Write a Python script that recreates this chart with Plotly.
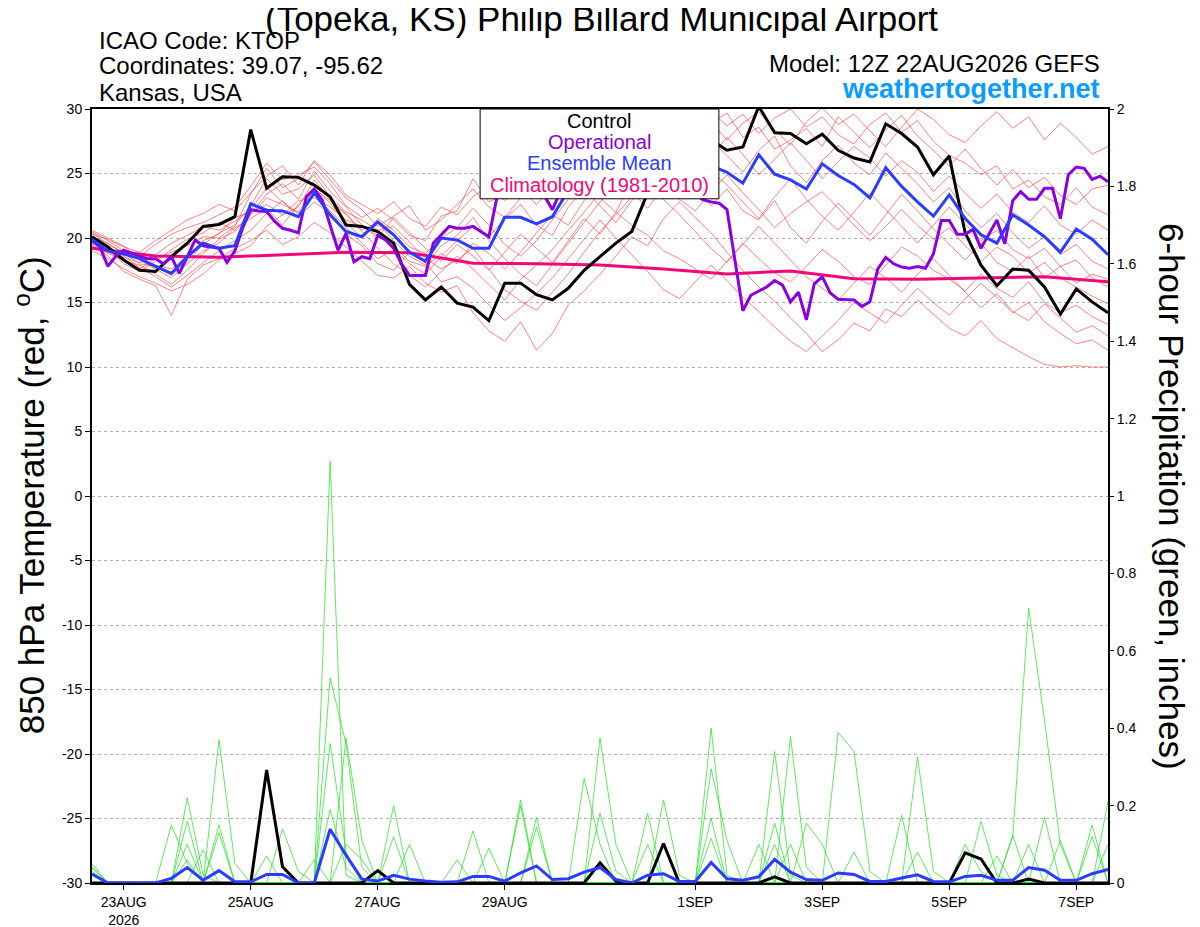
import pandas as pd
import plotly.graph_objects as go

# time axes
times6 = pd.date_range("2026-08-22 12:00", periods=65, freq="6h")
times3 = pd.date_range("2026-08-22 12:00", periods=129, freq="3h")
times24 = pd.date_range("2026-08-22 12:00", periods=17, freq="24h")

tick_dates = ["2026-08-23", "2026-08-25", "2026-08-27", "2026-08-29",
              "2026-09-01", "2026-09-03", "2026-09-05", "2026-09-07"]
tick_labels = ["23AUG<br>2026", "25AUG", "27AUG", "29AUG", "1SEP", "3SEP", "5SEP", "7SEP"]
temp_ticks = [-30, -25, -20, -15, -10, -5, 0, 5, 10, 15, 20, 25, 30]
temp_labels = ["-30", "-25", "-20", "-15", "-10", "-5", "0", "5", "10", "15", "20", "25", "30"]
precip_ticks = [0, 0.2, 0.4, 0.6, 0.8, 1, 1.2, 1.4, 1.6, 1.8, 2]
precip_labels = ["0", "0.2", "0.4", "0.6", "0.8", "1", "1.2", "1.4", "1.6", "1.8", "2"]

# 850 hPa temperature (C), 6-hourly
control_t = [20.1, 19.3, 18.3, 17.5, 17.4, 18.55, 19.6, 20.9, 21.05, 21.65,
             28.4, 23.85, 24.75, 24.7, 24.1, 23.2, 21.0, 20.9, 20.5, 19.6,
             16.4, 15.2, 16.2, 14.95, 14.65, 13.6, 16.5, 16.5, 15.6, 15.2,
             16.1, 17.5, 18.55, 19.6, 20.5, 23.5, 26.8, 27.5, 27.8, 27.6,
             26.8, 27.05, 30.2, 28.15, 28.1, 27.3, 28.05, 26.8, 26.2, 25.9,
             28.85, 28.1, 27.05, 24.9, 26.35, 20.4, 17.9, 16.3, 17.6, 17.5,
             16.2, 14.1, 16.05, 15.05, 14.2]

mean_t = [19.9, 19.0, 18.75, 18.4, 17.8, 17.25, 18.55, 19.6, 19.2, 19.4,
          22.65, 22.15, 22.1, 21.65, 23.5, 21.8, 20.5, 20.1, 21.25, 20.25,
          18.9, 18.2, 20.0, 19.85, 19.2, 19.2, 21.6, 21.6, 21.1, 21.65,
          23.7, 24.0, 24.3, 24.5, 24.8, 25.0, 25.2, 25.3, 25.5, 25.6,
          25.1, 24.25, 26.45, 24.95, 24.5, 23.8, 25.75, 24.85, 24.15, 23.1,
          25.45, 24.0, 22.8, 21.7, 23.35, 21.5, 20.25, 19.6, 21.8, 21.0,
          20.1, 18.9, 20.7, 19.9, 18.7]

# operational run, 3-hourly
oper_t = [19.8, 19.3, 17.8, 18.6, 19.05, 18.8, 18.6, 18.4, 18.4, 18.0,
          18.55, 17.25, 18.6, 19.85, 19.4, 19.3, 19.2, 18.1, 19.0, 20.8,
          22.2, 22.1, 22.05, 21.3, 20.75, 20.6, 20.4, 23.2, 23.8, 22.95,
          20.9, 19.05, 20.35, 18.15, 18.55, 18.4, 20.2, 19.85, 19.2, 18.0,
          17.1, 17.1, 17.1, 19.6, 20.25, 20.9, 20.75, 20.75, 20.9, 20.5,
          20.1, 23.1, 23.7, 23.6, 23.5, 23.4, 23.5, 23.25, 22.2, 23.6,
          24.2, 24.8, 25.0, 25.3, 25.1, 25.6, 26.0, 25.7, 25.4, 25.8,
          25.5, 25.1, 24.8, 24.6, 24.2, 23.8, 23.4, 22.95, 22.8, 22.7,
          22.2, 18.3, 14.36, 15.56, 15.9, 16.2, 16.7, 16.35, 15.05, 15.8,
          13.65, 16.45, 17.0, 15.75, 15.25, 15.2, 15.2, 14.7, 15.05, 17.6,
          18.5, 18.0, 17.75, 17.65, 17.78, 17.65, 18.76, 21.35, 21.35, 20.3,
          20.3, 20.66, 19.2, 20.3, 21.4, 19.55, 22.9, 23.6, 23.0, 23.0,
          23.85, 23.85, 21.5, 24.9, 25.5, 25.4, 24.55, 24.8, 24.35]

# climatology 1981-2010, daily
clim_t = [19.2, 18.6, 18.5, 18.7, 18.9, 18.85, 18.05, 18.0, 17.9,
          17.6, 17.2, 17.45, 16.85, 16.8, 16.9, 17.0, 16.6]

# ensemble members, temperature
members_t = [
    [20.5, 19.8, 19.0, 18.6, 19.5, 20.3, 20.8, 21.2, 21.8, 22.4, 24.0, 25.8, 24.5, 24.9, 25.5, 24.2,
     22.5, 21.6, 22.3, 21.4, 20.2, 19.8, 21.7, 22.1, 24.6, 22.8, 23.4, 25.0, 24.1, 24.8, 26.3, 25.4,
     26.8, 27.5, 28.2, 27.1, 28.9, 29.5, 28.3, 29.8, 28.7, 29.6, 28.1, 29.3, 30.0, 28.6, 29.4, 28.0,
     27.3, 28.8, 29.7, 28.2, 29.1, 27.5, 26.4, 25.8, 24.9, 25.6, 23.8, 24.5, 23.2, 22.6, 23.9, 22.4,
     21.8],
    [19.5, 18.6, 17.4, 16.8, 16.3, 14.0, 16.8, 17.9, 18.4, 19.2, 19.8, 20.6, 19.5, 20.1, 21.2, 20.4,
     19.3, 18.2, 17.1, 16.9, 17.8, 16.5, 15.8, 16.3, 14.2, 12.8, 12.0, 13.5, 11.3, 12.6, 14.8, 15.9,
     17.2, 18.6, 20.1, 19.4, 21.5, 22.8, 21.6, 20.4, 18.9, 17.5, 16.2, 15.1, 13.8, 12.6, 11.2, 12.1,
     13.4, 12.8, 14.5, 13.9, 15.2, 14.1, 13.0, 12.4, 13.6, 12.2, 11.5, 10.8, 10.2, 10.0, 10.1, 10.0,
     10.0],
    [19.8, 19.0, 18.2, 17.9, 17.2, 16.4, 17.5, 18.8, 19.9, 20.5, 21.8, 23.1, 22.6, 22.0, 23.8, 22.9,
     21.8, 20.6, 21.2, 19.8, 18.6, 17.9, 19.4, 20.2, 21.6, 19.8, 18.4, 17.2, 16.3, 18.0, 19.6, 21.2,
     22.8, 24.0, 25.6, 24.3, 26.1, 25.2, 24.0, 22.5, 23.8, 22.1, 21.4, 22.9, 20.8, 19.6, 21.3, 22.7,
     21.5, 20.2, 21.8, 23.4, 22.1, 20.7, 19.5, 18.3, 19.6, 18.1, 17.4, 18.6, 16.9, 17.8, 16.5, 17.2,
     16.8],
    [20.1, 19.6, 18.8, 18.0, 17.8, 17.1, 18.2, 19.5, 20.4, 21.0, 22.5, 24.6, 23.4, 23.8, 24.9, 23.2,
     22.0, 21.4, 20.6, 20.9, 19.7, 18.4, 17.6, 18.3, 19.2, 17.6, 16.0, 15.1, 14.4, 15.8, 17.2, 18.9,
     20.5, 21.8, 23.2, 24.6, 25.9, 27.0, 26.2, 27.6, 26.4, 25.1, 26.8, 27.9, 25.6, 24.3, 26.0, 27.2,
     25.8, 24.9, 26.6, 25.4, 24.2, 22.8, 23.9, 22.1, 20.8, 21.9, 20.4, 19.2, 20.1, 18.7, 19.5, 18.2,
     17.6],
    [19.2, 18.9, 18.5, 18.1, 18.7, 19.6, 20.2, 20.9, 20.6, 21.3, 22.2, 23.9, 22.8, 21.9, 23.4, 22.1,
     20.8, 19.6, 18.4, 19.1, 18.0, 17.2, 18.6, 19.8, 20.9, 20.1, 21.5, 22.6, 21.0, 20.2, 22.4, 23.8,
     22.5, 21.2, 22.9, 24.1, 23.0, 21.8, 20.5, 19.2, 18.1, 19.6, 18.4, 17.3, 16.6, 17.8, 19.1, 18.2,
     17.0, 16.4, 17.9, 19.3, 18.6, 17.5, 16.8, 15.9, 17.2, 16.1, 15.4, 16.6, 15.0, 14.2, 14.8, 13.9,
     13.3],
    [20.3, 19.9, 19.3, 18.9, 19.8, 20.6, 21.4, 21.9, 22.6, 22.1, 23.5, 24.8, 25.6, 24.1, 26.0, 24.9,
     23.3, 22.6, 21.9, 22.8, 21.5, 20.9, 22.4, 21.8, 23.2, 24.1, 22.9, 23.8, 22.6, 23.9, 25.8, 26.9,
     25.2, 26.5, 27.8, 29.1, 27.9, 28.8, 30.2, 29.0, 27.6, 28.9, 29.8, 28.4, 27.2, 29.0, 30.1, 28.8,
     29.6, 28.3, 27.1, 28.6, 30.0, 29.2, 28.0, 27.4, 28.7, 29.8, 28.5, 29.4, 27.6, 28.9, 27.8, 26.5,
     27.1],
    [19.0, 18.4, 17.6, 17.0, 16.5, 15.9, 16.4, 17.2, 18.3, 18.8, 19.4, 20.9, 21.8, 22.4, 24.5, 23.0,
     21.9, 20.5, 19.2, 18.0, 17.1, 16.2, 17.4, 18.6, 17.6, 16.4, 15.2, 16.8, 17.9, 19.1, 20.6, 22.0,
     23.5, 24.8, 23.6, 22.3, 24.0, 25.4, 26.8, 25.2, 24.1, 22.8, 21.5, 23.2, 24.6, 23.0, 21.7, 20.6,
     22.0, 23.5, 22.2, 20.9, 19.6, 21.0, 22.4, 21.1, 19.8, 20.6, 19.1, 18.4, 19.2, 17.8, 18.3, 16.9,
     16.2],
    [20.6, 20.0, 19.4, 18.3, 17.6, 16.9, 18.0, 19.0, 19.6, 20.8, 21.5, 22.3, 21.0, 22.6, 23.9, 22.7,
     21.2, 20.0, 21.5, 20.6, 19.3, 18.8, 20.0, 20.8, 22.3, 21.0, 19.5, 18.6, 19.8, 21.4, 23.0, 24.3,
     23.1, 22.0, 21.0, 20.2, 19.0, 18.4, 17.6, 16.8, 18.2, 19.5, 20.9, 19.6, 18.3, 17.0, 16.1, 15.2,
     16.5, 17.8, 16.9, 15.8, 17.2, 18.4, 17.1, 15.8, 14.6, 15.7, 14.3, 13.6, 14.9, 13.8, 12.7, 13.2,
     12.4],
    [19.6, 19.1, 18.0, 17.4, 18.2, 19.1, 19.9, 20.4, 21.2, 20.6, 21.9, 23.4, 24.2, 23.0, 25.2, 23.6,
     22.4, 21.0, 20.0, 21.6, 20.4, 19.2, 18.2, 19.5, 18.6, 17.5, 18.9, 20.3, 19.2, 18.1, 19.8, 21.5,
     20.3, 22.0, 24.4, 25.9, 24.7, 23.5, 25.0, 26.4, 27.8, 26.5, 24.9, 26.1, 27.4, 26.0, 24.6, 25.9,
     27.1, 26.2, 24.8, 26.0, 25.1, 23.6, 24.8, 23.5, 22.3, 23.4, 22.0, 21.2, 22.5, 21.0, 20.3, 21.4,
     20.6],
    [20.0, 19.3, 18.6, 17.7, 17.0, 16.2, 17.1, 18.1, 19.0, 19.8, 20.6, 21.9, 22.9, 21.6, 22.8, 21.9,
     20.3, 19.4, 18.0, 17.5, 18.9, 18.1, 16.6, 17.0, 16.1, 14.8, 13.6, 14.6, 15.7, 16.9, 18.4, 19.9,
     21.4, 20.0, 18.7, 17.4, 16.0, 15.3, 16.6, 17.9, 16.7, 15.4, 14.3, 13.1, 12.0, 11.2, 12.4, 13.6,
     15.0, 14.2, 13.4, 14.8, 16.1, 15.0, 14.0, 15.3, 16.5, 15.4, 14.2, 15.0, 13.5, 12.6, 11.8, 12.1,
     11.3],
    [19.4, 18.8, 18.3, 17.6, 18.4, 18.9, 19.4, 20.1, 20.0, 20.9, 23.4, 25.4, 23.9, 24.6, 25.9, 24.5,
     23.1, 22.2, 20.9, 21.7, 22.5, 20.6, 21.4, 22.6, 23.8, 22.4, 21.6, 23.1, 24.5, 25.6, 24.2, 26.4,
     27.6, 26.3, 25.0, 26.7, 28.0, 26.6, 27.5, 28.9, 29.7, 27.8, 28.6, 26.9, 27.6, 28.5, 27.1, 29.4,
     28.2, 27.0, 28.4, 29.5, 27.9, 26.8, 25.6, 26.9, 25.4, 24.1, 25.3, 23.9, 24.7, 23.3, 22.6, 23.8,
     24.1],
    [20.4, 19.5, 18.9, 18.4, 17.9, 17.6, 18.6, 19.8, 20.3, 21.6, 22.0, 22.6, 21.8, 22.9, 23.1, 22.4,
     21.4, 20.9, 20.2, 19.4, 18.2, 17.8, 18.8, 18.0, 19.6, 18.8, 17.6, 18.9, 20.4, 21.8, 21.0, 22.9,
     24.2, 25.5, 26.9, 25.6, 24.4, 23.0, 22.1, 23.6, 24.9, 23.5, 22.2, 20.8, 21.9, 22.8, 23.6, 22.3,
     21.0, 19.8, 20.9, 22.2, 21.0, 19.9, 20.8, 19.4, 18.2, 19.3, 18.6, 17.3, 18.1, 16.9, 16.2, 15.5,
     14.9],
]

# 6-hour precipitation (inches)
control_p = [0, 0, 0, 0, 0, 0, 0, 0, 0, 0,
             0, 0.292, 0.042, 0, 0, 0, 0, 0, 0.032, 0,
             0, 0, 0, 0, 0, 0, 0, 0, 0, 0,
             0, 0, 0.052, 0.005, 0, 0, 0.102, 0, 0, 0,
             0, 0, 0, 0.016, 0, 0, 0, 0, 0, 0,
             0, 0, 0, 0, 0, 0.078, 0.062, 0, 0, 0.01,
             0, 0, 0, 0, 0]

mean_p = [0.023, 0, 0, 0, 0, 0.012, 0.04, 0.007, 0.032, 0.003,
          0.003, 0.022, 0.022, 0, 0, 0.139, 0.072, 0.01, 0.005, 0.02,
          0.01, 0.005, 0.002, 0.003, 0.017, 0.017, 0.005, 0.026, 0.044, 0.009,
          0.011, 0.028, 0.04, 0.009, 0, 0.02, 0.024, 0.004, 0.004, 0.053,
          0.011, 0.007, 0.016, 0.061, 0.028, 0.009, 0.007, 0.026, 0.022, 0.004,
          0.004, 0.013, 0.021, 0.004, 0.003, 0.017, 0.02, 0.007, 0.007, 0.04,
          0.033, 0.007, 0.007, 0.024, 0.035]

members_p = [
    [0.03, 0, 0, 0, 0, 0.15, 0.05, 0, 0, 0,
     0, 0, 0, 0, 0, 0.36, 0.08, 0, 0, 0,
     0, 0, 0, 0, 0, 0.09, 0, 0, 0, 0,
     0, 0, 0, 0, 0, 0, 0.215, 0.02, 0, 0,
     0, 0, 0, 0, 0, 0, 0, 0, 0, 0,
     0, 0, 0.326, 0.03, 0, 0, 0, 0, 0, 0,
     0, 0, 0, 0, 0],
    [0.04, 0, 0, 0, 0, 0, 0.22, 0.02, 0, 0,
     0, 0.07, 0, 0, 0, 0, 0, 0, 0, 0,
     0.1, 0, 0, 0, 0, 0, 0, 0, 0, 0,
     0, 0, 0.18, 0.03, 0, 0, 0, 0, 0, 0,
     0, 0, 0, 0.34, 0.02, 0, 0, 0, 0, 0,
     0, 0, 0, 0, 0, 0, 0, 0, 0, 0.1,
     0, 0.11, 0, 0, 0],
    [0.02, 0, 0, 0, 0, 0, 0.16, 0, 0.13, 0,
     0, 0, 0, 0, 0, 0, 0, 0, 0, 0,
     0, 0, 0, 0, 0.135, 0, 0, 0, 0, 0,
     0, 0, 0, 0, 0, 0.1, 0, 0, 0, 0,
     0, 0, 0, 0, 0.378, 0.04, 0, 0, 0, 0,
     0, 0, 0, 0, 0, 0.1, 0.03, 0, 0, 0,
     0, 0, 0, 0, 0],
    [0.05, 0, 0, 0, 0, 0, 0.1, 0, 0, 0,
     0, 0, 0, 0, 0, 0, 0.1, 0.06, 0, 0,
     0, 0, 0, 0, 0, 0, 0, 0.2, 0, 0,
     0, 0, 0, 0, 0, 0, 0, 0, 0, 0,
     0, 0, 0.1, 0, 0, 0, 0, 0, 0, 0,
     0, 0.175, 0, 0, 0, 0, 0, 0, 0, 0,
     0, 0, 0, 0, 0.1],
    [0, 0, 0, 0, 0, 0, 0.06, 0, 0, 0,
     0, 0, 0, 0, 0.06, 0, 0, 0, 0, 0,
     0, 0, 0, 0, 0, 0, 0, 0, 0.17, 0,
     0, 0, 0, 0, 0, 0, 0, 0, 0, 0,
     0, 0, 0, 0.155, 0, 0, 0, 0, 0, 0,
     0, 0, 0, 0, 0, 0, 0.159, 0.02, 0, 0,
     0, 0, 0, 0, 0],
    [0, 0, 0, 0, 0, 0, 0, 0.085, 0, 0,
     0, 0, 0, 0, 0, 0, 0, 0, 0, 0.2,
     0, 0, 0, 0, 0, 0, 0, 0, 0, 0,
     0, 0, 0, 0, 0, 0, 0, 0, 0, 0.4,
     0.02, 0, 0, 0, 0, 0, 0, 0, 0, 0,
     0, 0, 0, 0, 0, 0, 0, 0, 0, 0,
     0, 0, 0, 0.15, 0],
    [0, 0, 0, 0, 0, 0, 0, 0, 0.37, 0.05,
     0, 0, 0, 0, 0, 0, 0.375, 0.11, 0, 0,
     0, 0, 0, 0, 0, 0, 0, 0, 0, 0,
     0, 0, 0, 0, 0, 0.18, 0, 0, 0, 0,
     0, 0, 0, 0, 0, 0, 0, 0.389, 0.34, 0.03,
     0, 0, 0, 0, 0, 0, 0, 0, 0, 0,
     0, 0, 0, 0, 0],
    [0, 0, 0, 0, 0, 0, 0, 0, 0.15, 0,
     0, 0, 0, 0, 0, 0, 0, 0, 0, 0.12,
     0, 0, 0, 0, 0, 0, 0, 0, 0, 0,
     0, 0.27, 0.1, 0, 0, 0, 0, 0, 0, 0,
     0, 0, 0, 0.1, 0, 0, 0, 0, 0, 0,
     0, 0, 0, 0, 0, 0, 0, 0.07, 0, 0,
     0, 0, 0, 0, 0],
    [0, 0, 0, 0, 0, 0, 0, 0, 0, 0,
     0, 0, 0.14, 0.03, 0, 0, 0, 0, 0, 0,
     0, 0, 0, 0.06, 0, 0, 0, 0, 0, 0,
     0, 0, 0, 0, 0, 0, 0, 0, 0, 0.295,
     0.11, 0, 0, 0, 0, 0, 0, 0, 0, 0,
     0, 0, 0.08, 0, 0, 0, 0, 0, 0, 0,
     0, 0, 0, 0, 0.21],
    [0, 0, 0, 0, 0, 0, 0, 0, 0, 0,
     0, 0, 0, 0, 0, 1.09, 0.02, 0, 0, 0,
     0, 0, 0, 0, 0, 0, 0, 0, 0.145, 0,
     0, 0, 0, 0, 0, 0, 0, 0, 0, 0.167,
     0, 0, 0, 0, 0.1, 0, 0, 0, 0, 0,
     0, 0, 0, 0, 0, 0, 0, 0, 0.123, 0,
     0, 0, 0, 0, 0],
    [0, 0, 0, 0, 0, 0, 0, 0, 0, 0,
     0, 0, 0, 0, 0, 0.53, 0.36, 0.04, 0, 0,
     0, 0, 0, 0, 0, 0, 0, 0, 0, 0,
     0, 0, 0.375, 0.1, 0, 0, 0, 0, 0, 0,
     0, 0, 0, 0, 0, 0.155, 0.1, 0, 0, 0,
     0, 0, 0, 0, 0, 0, 0, 0, 0.12, 0.71,
     0.42, 0.1, 0, 0, 0],
    [0.04, 0, 0, 0, 0, 0, 0, 0, 0, 0,
     0, 0, 0, 0, 0, 0.19, 0.04, 0, 0, 0,
     0, 0, 0, 0, 0, 0, 0, 0.215, 0, 0,
     0, 0, 0, 0, 0, 0, 0, 0, 0, 0.115,
     0, 0, 0, 0, 0, 0, 0, 0, 0.08, 0,
     0, 0, 0, 0, 0, 0, 0, 0, 0, 0,
     0.17, 0, 0, 0.12, 0],
]

BLACK = "#000000"
PURPLE = "#8a00e0"
BLUE = "#2a3cff"
PINK = "#f0087a"
RED = "rgba(255,60,60,0.8)"
GREEN = "rgba(30,225,30,0.9)"
FONT = "Liberation Sans, Arial, sans-serif"
NARROW = "Liberation Sans Narrow, Arial Narrow, Liberation Sans, sans-serif"

fig = go.Figure()

for m in members_t:
    fig.add_trace(go.Scatter(x=times6, y=m, mode="lines",
                             line=dict(color=RED, width=0.8), yaxis="y"))
for m in members_p:
    fig.add_trace(go.Scatter(x=times6, y=m, mode="lines",
                             line=dict(color=GREEN, width=0.8), yaxis="y2"))

fig.add_trace(go.Scatter(x=times24, y=clim_t, mode="lines",
                         line=dict(color=PINK, width=3), yaxis="y"))
fig.add_trace(go.Scatter(x=times6, y=control_t, mode="lines",
                         line=dict(color=BLACK, width=3), yaxis="y"))
fig.add_trace(go.Scatter(x=times6, y=control_p, mode="lines",
                         line=dict(color=BLACK, width=3), yaxis="y2"))
fig.add_trace(go.Scatter(x=times3, y=oper_t, mode="lines",
                         line=dict(color=PURPLE, width=3), yaxis="y"))
fig.add_trace(go.Scatter(x=times6, y=mean_t, mode="lines",
                         line=dict(color=BLUE, width=3), yaxis="y"))
fig.add_trace(go.Scatter(x=times6, y=mean_p, mode="lines",
                         line=dict(color=BLUE, width=3), yaxis="y2"))

# the page adds an 8px body margin, so the margins are shifted by 8px here
fig.update_layout(
    width=1200, height=927,
    margin=dict(l=84, r=100, t=101, b=52),
    paper_bgcolor="white", plot_bgcolor="white",
    showlegend=False,
    font=dict(family=FONT, color="black"),
    xaxis=dict(
        type="date", automargin=False,
        range=["2026-08-22 12:00", "2026-09-07 12:00"],
        tickvals=tick_dates, ticktext=tick_labels,
        ticks="outside", ticklen=5, tickcolor="black",
        showgrid=False, zeroline=False,
        showline=True, linecolor="black", linewidth=2, mirror=True,
        tickfont=dict(family=NARROW, size=14),
    ),
    yaxis=dict(
        range=[-30, 30], automargin=False,
        tickvals=temp_ticks, ticktext=temp_labels,
        ticks="outside", ticklen=5, tickcolor="black",
        showgrid=True, gridcolor="#b0b0b0", griddash="dot", gridwidth=1,
        zeroline=False,
        showline=True, linecolor="black", linewidth=2, mirror=True,
        tickfont=dict(family=NARROW, size=14),
    ),
    yaxis2=dict(
        range=[0, 2], overlaying="y", side="right", automargin=False,
        tickvals=precip_ticks, ticktext=precip_labels,
        ticks="outside", ticklen=5, tickcolor="black",
        showgrid=False, zeroline=False,
        tickfont=dict(family=NARROW, size=14),
    ),
)

# legend box
fig.add_shape(type="rect", xref="paper", yref="paper",
              x0=0.382, x1=0.617, y0=0.884, y1=1.0,
              line=dict(color="black", width=1), fillcolor="white", layer="above")
legend_items = [("Control", BLACK, 0.9845), ("Operational", PURPLE, 0.9574),
                ("Ensemble Mean", BLUE, 0.9302), ("Climatology (1981-2010)", PINK, 0.9018)]
for txt, col, yy in legend_items:
    fig.add_annotation(text=txt, xref="paper", yref="paper", x=0.4995, y=yy,
                       xanchor="center", yanchor="middle",
                       showarrow=False, font=dict(size=20, color=col))

# header texts
fig.add_annotation(text="(Topeka, KS) Philip Billard Municipal Airport",
                   xref="paper", yref="paper", x=0.501, y=1.1165,
                   xanchor="center", yanchor="middle",
                   showarrow=False, font=dict(size=35))
for txt, yy in [("ICAO Code: KTOP", 1.0891), ("Coordinates: 39.07, -95.62", 1.0556),
                ("Kansas, USA", 1.0207)]:
    fig.add_annotation(text=txt, xref="paper", yref="paper", x=0.0049, y=yy,
                       xanchor="left", yanchor="middle", showarrow=False,
                       font=dict(size=24))
fig.add_annotation(text="Model: 12Z 22AUG2026 GEFS", xref="paper", yref="paper",
                   x=0.9941, y=1.0594, xanchor="right", yanchor="middle",
                   showarrow=False, font=dict(size=24))
fig.add_annotation(text="<b>weathertogether.net</b>", xref="paper", yref="paper",
                   x=0.9941, y=1.0258, xanchor="right", yanchor="middle",
                   showarrow=False, font=dict(size=27, color="#0a9cff"))

# axis titles
fig.add_annotation(text="850 hPa Temperature (red, <sup>o</sup>C)",
                   xref="paper", yref="paper", x=-0.061, y=0.501,
                   xanchor="center", yanchor="middle",
                   textangle=-90, showarrow=False, font=dict(size=35))
fig.add_annotation(text="6-hour Precipitation (green, inches)",
                   xref="paper", yref="paper", x=1.063, y=0.5,
                   xanchor="center", yanchor="middle",
                   textangle=90, showarrow=False, font=dict(size=35))

fig.write_html("out.html")
